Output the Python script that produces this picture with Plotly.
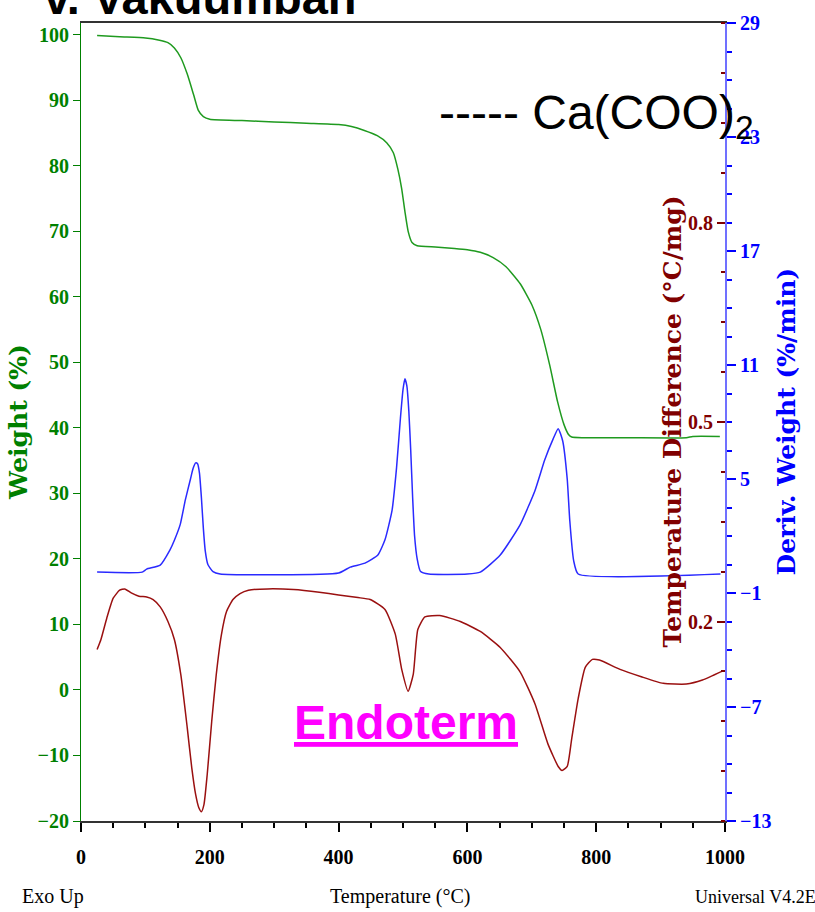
import plotly.graph_objects as go

# ---- data ----
temp_weight = [25, 60, 100, 120, 135, 145, 155, 165, 175, 182, 190, 200, 250, 300, 350, 400, 420, 440,
               460, 475, 485, 492, 498, 503, 508, 514, 522, 550, 580, 600, 620, 640, 660, 682, 700,
               714, 728, 740, 750, 757, 762, 780, 850, 940, 950, 992]
weight_pct = [99.9, 99.7, 99.5, 99.2, 98.8, 98.0, 96.5, 94.0, 90.8, 88.5, 87.5, 87.1, 86.9, 86.7, 86.5,
              86.3, 86.0, 85.4, 84.6, 83.5, 82.0, 79.5, 76.5, 73.0, 70.0, 68.3, 67.8, 67.6, 67.4, 67.2,
              66.8, 66.0, 64.6, 62.0, 58.8, 55.0, 49.5, 44.0, 40.5, 39.0, 38.6, 38.5, 38.5, 38.5, 38.7, 38.7]

temp_deriv = [25, 95, 102, 123, 138, 145, 154, 162, 170, 174, 178, 181, 184, 187, 190, 193, 197, 205, 216,
              400, 418, 441, 461, 472, 483, 490, 496, 500, 503, 506, 509, 512, 515, 518, 522, 527, 540,
              600, 620, 651, 682, 705, 720, 733, 741, 748, 755, 759, 765, 772, 993]
deriv_weight = [0.10, 0.10, 0.26, 0.47, 1.26, 1.78, 2.6, 3.9, 5.0, 5.55, 5.85, 5.8, 5.3, 4.0, 2.4, 1.2,
                0.5, 0.12, 0.0, 0.05, 0.36, 0.57, 1.0, 1.8, 3.35, 5.6, 8.2, 9.7, 10.27, 9.9, 8.6, 6.5,
                4.0, 2.0, 0.8, 0.15, 0.0, 0.0, 0.1, 1.0, 2.6, 4.4, 6.0, 7.1, 7.65, 7.0, 5.0, 2.8, 0.7,
                0.0, 0.0]

temp_dta = [25, 31, 40, 50, 60, 68, 78, 90, 102, 112, 123, 135, 145, 155, 165, 172, 178, 183, 187, 191,
            196, 203, 210, 218, 226, 236, 247, 260, 290, 330, 370, 400, 430, 449, 472, 488, 498, 508,
            516, 523, 534, 557, 589, 620, 651, 682, 705, 725, 741, 747, 755, 762, 772, 783, 794, 805,
            837, 870, 904, 940, 965, 995]
temp_diff = [0.158, 0.173, 0.205, 0.235, 0.247, 0.249, 0.243, 0.238, 0.237, 0.233, 0.222, 0.200, 0.173,
             0.120, 0.040, -0.020, -0.060, -0.080, -0.086, -0.075, -0.030, 0.050, 0.120, 0.180, 0.215,
             0.233, 0.242, 0.247, 0.249, 0.248, 0.244, 0.240, 0.236, 0.233, 0.218, 0.181, 0.128, 0.095,
             0.121, 0.188, 0.207, 0.209, 0.200, 0.185, 0.161, 0.124, 0.076, 0.016, -0.018, -0.024,
             -0.018, 0.024, 0.084, 0.131, 0.143, 0.142, 0.128, 0.117, 0.107, 0.106, 0.112, 0.125]

x_ticks = [0, 200, 400, 600, 800, 1000]
weight_ticks = [-20, -10, 0, 10, 20, 30, 40, 50, 60, 70, 80, 90, 100]
deriv_ticks = [-13, -7, -1, 5, 11, 17, 23, 29]
diff_ticks = [0.2, 0.5, 0.8]

GREEN = "#008000"
BLUE = "#0000FF"
RED = "#800000"

fig = go.Figure()
fig.add_trace(go.Scatter(x=temp_weight, y=weight_pct, mode="lines", yaxis="y",
                         line=dict(color="#1f9a1f", width=1.5, shape="spline", smoothing=0.5),
                         showlegend=False))
fig.add_trace(go.Scatter(x=temp_deriv, y=deriv_weight, mode="lines", yaxis="y2",
                         line=dict(color="#2a2aff", width=1.5, shape="spline", smoothing=0.5),
                         showlegend=False))
fig.add_trace(go.Scatter(x=temp_dta, y=temp_diff, mode="lines", yaxis="y3",
                         line=dict(color="#9a1010", width=1.5, shape="spline", smoothing=0.5),
                         showlegend=False))

fig.update_layout(
    width=815, height=912,
    margin=dict(l=81, r=90, t=20, b=91),
    paper_bgcolor="white", plot_bgcolor="white",
    xaxis=dict(range=[0, 1000], tickvals=x_ticks, ticks="outside", ticklen=9, tickwidth=1.5,
               tickcolor="black", showline=True, linecolor="#333333", linewidth=2, mirror=True,
               showgrid=False, zeroline=False, ticklabelstandoff=8,
               tickfont=dict(family="Liberation Serif", size=20, color="black", weight="bold"),
               minor=dict(dtick=50, tick0=0, ticks="outside", ticklen=5, tickcolor="black")),
    yaxis=dict(range=[-20, 101.8], tickvals=weight_ticks, ticks="outside", ticklen=7,
               tickcolor=GREEN, showline=True, linecolor=GREEN, linewidth=1,
               showgrid=False, zeroline=False,
               tickfont=dict(family="Liberation Serif", size=20, color=GREEN, weight="bold")),
    yaxis2=dict(range=[-13, 29], tickvals=deriv_ticks, overlaying="y", side="right", anchor="x",
                ticks="outside", ticklen=9, tickwidth=1.5, tickcolor=BLUE, showline=True,
                linecolor="#7070ff", linewidth=2, showgrid=False, zeroline=False,
                tickfont=dict(family="Liberation Serif", size=20, color=BLUE, weight="bold"),
                minor=dict(dtick=1.5, tick0=-13, ticks="outside", ticklen=5, tickcolor=BLUE)),
    yaxis3=dict(range=[-0.1, 1.1], tickvals=diff_ticks, ticktext=["0.2", "0.5", "0.8"],
                overlaying="y", side="left", anchor="free", position=1,
                ticks="outside", ticklen=8, tickwidth=1.5, tickcolor=RED,
                showline=False, showgrid=False, zeroline=False,
                tickfont=dict(family="Liberation Serif", size=20, color=RED, weight="bold"),
                minor=dict(dtick=0.075, tick0=0.2, ticks="outside", ticklen=4, tickcolor=RED)),
)

ann = []
ann.append(dict(text="<b>v. Vakuumban</b>", xref="paper", yref="paper", x=-0.06, y=0.996,
                xanchor="left", yanchor="bottom", showarrow=False,
                font=dict(family="Liberation Sans", size=47, color="black")))
ann.append(dict(text="----- Ca(COO)<sub>2</sub>", xref="paper", yref="paper", x=0.553, y=0.884,
                xanchor="left", yanchor="middle", showarrow=False,
                font=dict(family="Liberation Sans", size=48, color="black")))
ann.append(dict(text="<b><u>Endoterm</u></b>", xref="paper", yref="paper", x=0.327, y=0.124,
                xanchor="left", yanchor="middle", showarrow=False,
                font=dict(family="Liberation Sans", size=48, color="#FF00FF")))
ann.append(dict(text="<b>Weight (%)</b>", xref="paper", yref="paper", x=-0.098, y=0.50,
                xanchor="center", yanchor="middle", textangle=-90, showarrow=False,
                font=dict(family="DejaVu Serif", size=25, color=GREEN)))
ann.append(dict(text="<b>Temperature Difference (°C/mg)</b>", xref="paper", yref="paper", x=0.917, y=0.50,
                xanchor="center", yanchor="middle", textangle=-90, showarrow=False,
                font=dict(family="DejaVu Serif", size=25, color=RED)))
ann.append(dict(text="<b>Deriv. Weight (%/min)</b>", xref="paper", yref="paper", x=1.094, y=0.50,
                xanchor="center", yanchor="middle", textangle=-90, showarrow=False,
                font=dict(family="DejaVu Serif", size=25, color=BLUE)))
ann.append(dict(text="Temperature (°C)", xref="paper", yref="paper", x=0.495, y=-0.095,
                xanchor="center", yanchor="middle", showarrow=False,
                font=dict(family="Liberation Serif", size=20, color="black")))
ann.append(dict(text="Exo Up", xref="paper", yref="paper", x=-0.0435, y=-0.095,
                xanchor="center", yanchor="middle", showarrow=False,
                font=dict(family="Liberation Serif", size=20, color="black")))
ann.append(dict(text="Universal V4.2E", xref="paper", yref="paper", x=1.145, y=-0.095,
                xanchor="right", yanchor="middle", showarrow=False,
                font=dict(family="Liberation Serif", size=18, color="black")))
fig.update_layout(annotations=ann)

fig.write_html("out.html")
